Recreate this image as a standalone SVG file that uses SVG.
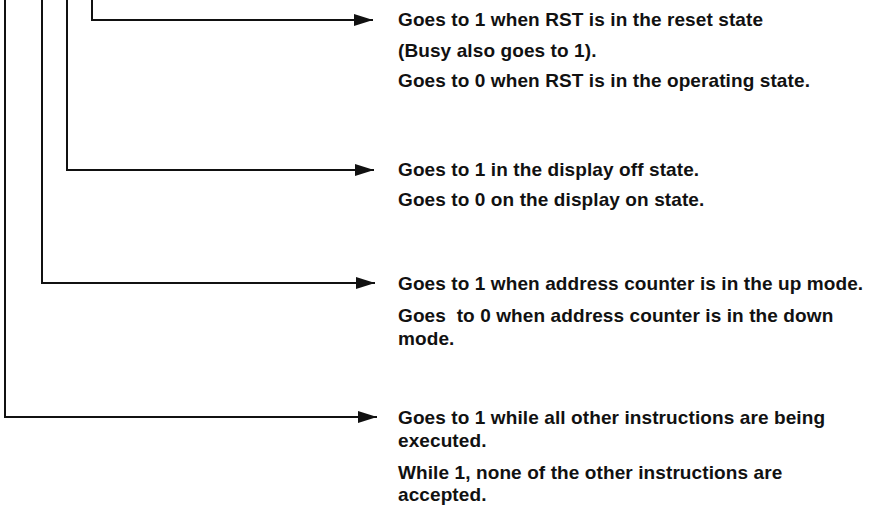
<svg xmlns="http://www.w3.org/2000/svg" width="886" height="507" viewBox="0 0 886 507">
<style>
.bg{fill:#ffffff}
.wire{fill:none;stroke:#111;stroke-width:2;stroke-linejoin:miter}
.t{font-family:"Liberation Sans",Arial,sans-serif;font-size:19px;font-weight:bold;letter-spacing:0.1px;fill:#111;white-space:pre}
</style>
<defs>
<marker id="ah" viewBox="0 0 19 12" refX="19" refY="6" markerWidth="19" markerHeight="12" markerUnits="userSpaceOnUse" orient="auto">
<path d="M0,0 L19,6 L0,12 z" fill="#111"/>
</marker>
</defs>
<rect class="bg" x="0" y="0" width="886" height="507"/>
<g id="connectors">
<path class="wire" d="M92,0 V20 H373" marker-end="url(#ah)"/>
<path class="wire" d="M67,0 V170 H374" marker-end="url(#ah)"/>
<path class="wire" d="M42,0 V283 H375" marker-end="url(#ah)"/>
<path class="wire" d="M5,0 V417 H377" marker-end="url(#ah)"/>
</g>
<g id="node-rst">
<text class="t" x="398" y="26">Goes to 1 when RST is in the reset state</text>
<text class="t" x="398" y="57">(Busy also goes to 1).</text>
<text class="t" x="398" y="87">Goes to 0 when RST is in the operating state.</text>
</g>
<g id="node-display">
<text class="t" x="398" y="176">Goes to 1 in the display off state.</text>
<text class="t" x="398" y="206">Goes to 0 on the display on state.</text>
</g>
<g id="node-counter">
<text class="t" x="398" y="290">Goes to 1 when address counter is in the up mode.</text>
<text class="t" x="398" y="322">Goes  to 0 when address counter is in the down</text>
<text class="t" x="398" y="345">mode.</text>
</g>
<g id="node-busy">
<text class="t" x="398" y="424">Goes to 1 while all other instructions are being</text>
<text class="t" x="398" y="447">executed.</text>
<text class="t" x="398" y="479">While 1, none of the other instructions are</text>
<text class="t" x="398" y="501">accepted.</text>
</g>
</svg>
